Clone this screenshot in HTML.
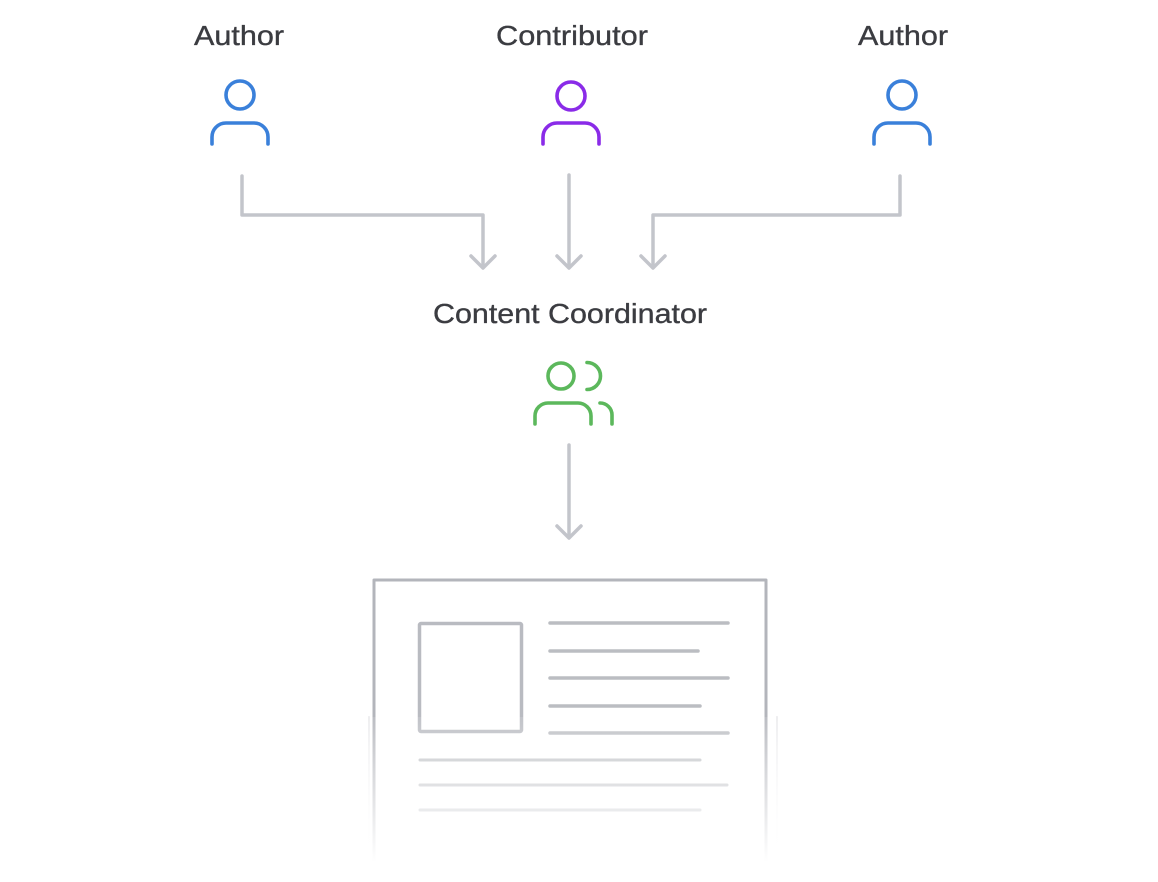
<!DOCTYPE html>
<html>
<head>
<meta charset="utf-8">
<style>
  html, body { margin:0; padding:0; background:#ffffff; }
  body { width:1158px; height:882px; overflow:hidden; }
  svg { display:block; }
  text { font-family: "Liberation Sans", "DejaVu Sans", sans-serif; fill:#3b3c41; stroke:#3b3c41; stroke-width:0.35px; font-size:27.5px; }
</style>
</head>
<body>
<svg width="1158" height="882" viewBox="0 0 1158 882" xmlns="http://www.w3.org/2000/svg">
  <defs>
    <linearGradient id="fade" x1="0" y1="717" x2="0" y2="862" gradientUnits="userSpaceOnUse">
      <stop offset="0" stop-color="#ffffff" stop-opacity="0.12"/>
      <stop offset="0.35" stop-color="#ffffff" stop-opacity="0.45"/>
      <stop offset="1" stop-color="#ffffff" stop-opacity="1"/>
    </linearGradient>
    <linearGradient id="shadow" x1="0" y1="717" x2="0" y2="862" gradientUnits="userSpaceOnUse">
      <stop offset="0" stop-color="#ececee" stop-opacity="1"/>
      <stop offset="1" stop-color="#ffffff" stop-opacity="1"/>
    </linearGradient>
  </defs>

  <!-- Labels -->
  <text x="194" y="45" textLength="90" lengthAdjust="spacingAndGlyphs">Author</text>
  <text x="496" y="45" textLength="152" lengthAdjust="spacingAndGlyphs">Contributor</text>
  <text x="858" y="45" textLength="90" lengthAdjust="spacingAndGlyphs">Author</text>
  <text x="433" y="323" textLength="274" lengthAdjust="spacingAndGlyphs">Content Coordinator</text>

  <!-- Person icons -->
  <g fill="none" stroke-width="3.6" stroke-linecap="round" stroke-linejoin="round">
    <g stroke="#3a80da">
      <circle cx="240" cy="95" r="14"/>
      <path d="M212 144 V137 a14 14 0 0 1 14 -14 H254 a14 14 0 0 1 14 14 V144"/>
    </g>
    <g stroke="#8a2be8">
      <circle cx="571" cy="96" r="14"/>
      <path d="M543 144 V137 a14 14 0 0 1 14 -14 H585 a14 14 0 0 1 14 14 V144"/>
    </g>
    <g stroke="#3a80da">
      <circle cx="902" cy="95" r="14"/>
      <path d="M874 144 V137 a14 14 0 0 1 14 -14 H916 a14 14 0 0 1 14 14 V144"/>
    </g>
    <!-- coordinator -->
    <g stroke="#5cb85c">
      <circle cx="561" cy="376" r="13"/>
      <path d="M587 362.5 A13.5 13.5 0 0 1 587 389.5"/>
      <path d="M535 424 V416 a13 13 0 0 1 13 -13 H578 a13 13 0 0 1 13 13 V424"/>
      <path d="M600 403 a12 12 0 0 1 12 12 V424"/>
    </g>
  </g>

  <!-- Connectors -->
  <g fill="none" stroke="#c3c5cb" stroke-width="3.5" stroke-linecap="round" stroke-linejoin="round">
    <path d="M242 176 V215 H483 V266"/>
    <path d="M471 256 L483 268 L495 256"/>
    <path d="M569 175 V266"/>
    <path d="M557 256 L569 268 L581 256"/>
    <path d="M900 176 V215 H653 V266"/>
    <path d="M641 256 L653 268 L665 256"/>
    <path d="M569 445 V536"/>
    <path d="M557 526 L569 538 L581 526"/>
  </g>

  <!-- Document -->
  <g fill="none" stroke-linecap="round">
    <line x1="369" y1="717" x2="369" y2="862" stroke="url(#shadow)" stroke-width="2"/>
    <line x1="777" y1="717" x2="777" y2="862" stroke="url(#shadow)" stroke-width="2"/>
    <path d="M374 862 V580 H766 V862" stroke="#b3b5bb" stroke-width="3" stroke-linecap="butt" stroke-linejoin="round"/>
    <rect x="419.5" y="623.5" width="102" height="108" rx="1.5" stroke="#b9bbc1" stroke-width="3.5"/>
    <g stroke="#bbbdc2" stroke-width="3.5">
      <line x1="550" y1="623" x2="728" y2="623"/>
      <line x1="550" y1="651" x2="698" y2="651"/>
      <line x1="550" y1="678" x2="728" y2="678"/>
      <line x1="550" y1="706" x2="700" y2="706"/>
      <line x1="550" y1="733" x2="728" y2="733"/>
    </g>
    <g stroke="#bbbdc2" stroke-width="3">
      <line x1="420" y1="760" x2="700" y2="760"/>
      <line x1="420" y1="785" x2="727" y2="785"/>
      <line x1="420" y1="810" x2="700" y2="810"/>
    </g>
  </g>
  <!-- fade overlay -->
  <rect x="360" y="717" width="430" height="165" fill="url(#fade)"/>
  <rect x="360" y="862" width="430" height="20" fill="#ffffff"/>
</svg>
</body>
</html>
